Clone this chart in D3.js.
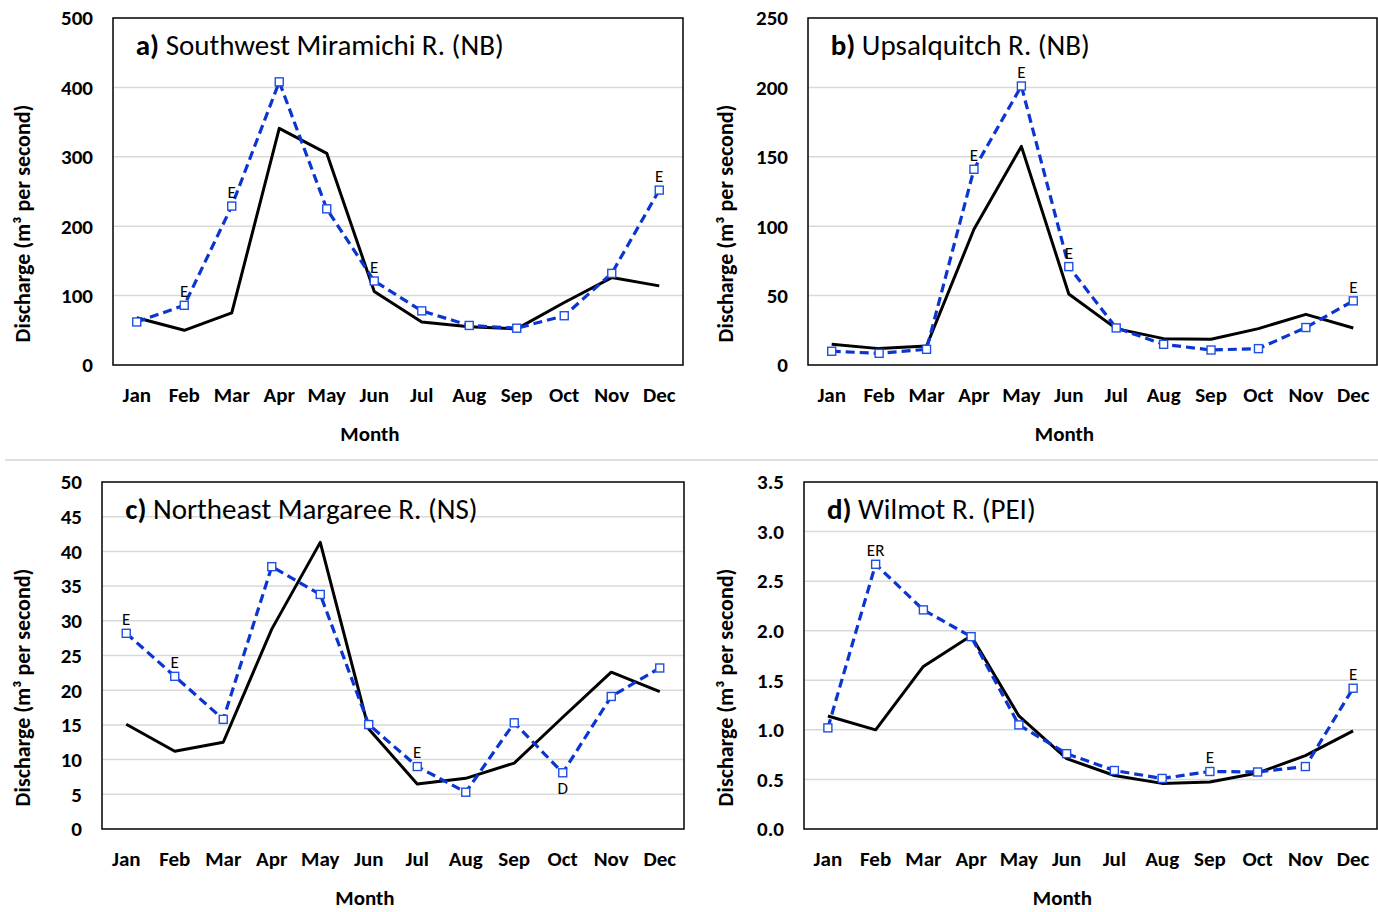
<!DOCTYPE html>
<html>
<head>
<meta charset="utf-8">
<script src="https://cdn.jsdelivr.net/npm/d3@7"></script>
<style>
  body { margin: 0; background: #fff; }
  text { font-family: Carlito, Lato, "Open Sans", sans-serif; }
</style>
</head>
<body>
<svg id="chart" width="1378" height="912"></svg>
<script>
// months along the x axis
const months = ["Jan", "Feb", "Mar", "Apr", "May", "Jun", "Jul", "Aug", "Sep", "Oct", "Nov", "Dec"];

// a) Southwest Miramichi R. (NB)
const aSolid  = [68, 50, 75, 341, 305, 106, 62, 55, 52, 90, 126, 114];
const aDashed = [62, 86, 229, 408, 225, 121, 78, 57, 53, 71, 132, 252];
const aFlags  = [["Feb", "E"], ["Mar", "E"], ["Jun", "E"], ["Dec", "E"]];
const aTicks  = [0, 100, 200, 300, 400, 500];

// b) Upsalquitch R. (NB)
const bSolid  = [14.9, 11.8, 13.7, 97.8, 157.5, 51.2, 26.2, 19, 18.5, 26.2, 36.5, 26.7];
const bDashed = [9.9, 8.4, 11.3, 141, 201, 70.9, 26.7, 14.9, 10.8, 11.8, 27, 46.2];
const bFlags  = [["Apr", "E"], ["May", "E"], ["Jun", "E"], ["Dec", "E"]];
const bTicks  = [0, 50, 100, 150, 200, 250];

// c) Northeast Margaree R. (NS)
const cSolid  = [15.1, 11.2, 12.5, 28.8, 41.3, 14.4, 6.5, 7.3, 9.5, 16.1, 22.6, 19.8];
const cDashed = [28.2, 22, 15.8, 37.8, 33.8, 15.05, 9.0, 5.3, 15.3, 8.1, 19.1, 23.2];
const cFlags  = [["Jan", "E"], ["Feb", "E"], ["Jul", "E"], ["Oct", "D"]];
const cTicks  = [0, 5, 10, 15, 20, 25, 30, 35, 40, 45, 50];

// d) Wilmot R. (PEI)
const dSolid  = [1.14, 1.0, 1.64, 1.95, 1.14, 0.71, 0.54, 0.46, 0.475, 0.565, 0.74, 0.99];
const dDashed = [1.02, 2.67, 2.21, 1.94, 1.05, 0.76, 0.59, 0.51, 0.58, 0.575, 0.63, 1.42];
const dFlags  = [["Feb", "ER"], ["Sep", "E"], ["Dec", "E"]];
const dTicks  = [0, 0.5, 1.0, 1.5, 2.0, 2.5, 3.0, 3.5];

const svg = d3.select("#chart");

// thin separator between the two rows
svg.append("line")
  .attr("x1", 5).attr("x2", 1378)
  .attr("y1", 460).attr("y2", 460)
  .attr("stroke", "#d4d4d4").attr("stroke-width", 1.5);

function drawPanel(p) {
  const g = svg.append("g");
  const x = d3.scaleBand().domain(months).range([p.left, p.left + p.width]);
  const y = d3.scaleLinear()
    .domain([0, p.ticks[p.ticks.length - 1]])
    .range([p.top + p.height, p.top]);
  const cx = (m) => x(m) + x.bandwidth() / 2;

  // gridlines
  g.selectAll(".grid")
    .data(p.ticks.slice(1, -1))
    .enter()
    .append("line")
    .attr("x1", p.left).attr("x2", p.left + p.width)
    .attr("y1", (d) => y(d)).attr("y2", (d) => y(d))
    .attr("stroke", "#d9d9d9").attr("stroke-width", 1.5);

  // plot frame
  g.append("rect")
    .attr("x", p.left).attr("y", p.top)
    .attr("width", p.width).attr("height", p.height)
    .attr("fill", "none").attr("stroke", "#000").attr("stroke-width", 1.5);

  // y tick labels
  g.selectAll(".ytick")
    .data(p.ticks)
    .enter()
    .append("text")
    .attr("x", p.left - 20)
    .attr("y", (d) => y(d))
    .attr("dy", "0.35em")
    .attr("text-anchor", "end")
    .attr("font-size", 21).attr("font-weight", "bold")
    .text((d) => d3.format(p.fmt)(d));

  // month labels
  g.selectAll(".xtick")
    .data(months)
    .enter()
    .append("text")
    .attr("x", (d) => cx(d))
    .attr("y", p.top + p.height + 30)
    .attr("dy", "0.35em")
    .attr("text-anchor", "middle")
    .attr("font-size", 21).attr("font-weight", "bold")
    .text((d) => d);

  // axis titles
  g.append("text")
    .attr("x", p.left + p.width / 2 - 28)
    .attr("y", p.top + p.height + 69)
    .attr("dy", "0.35em")
    .attr("text-anchor", "middle")
    .attr("font-size", 21).attr("font-weight", "bold")
    .text("Month");

  g.append("text")
    .attr("transform", "translate(" + p.ytitleX + "," + (p.top + p.height / 2 + 32) + ") rotate(-90)")
    .attr("dy", "0.35em")
    .attr("text-anchor", "middle")
    .attr("font-size", 22).attr("font-weight", "bold")
    .text("Discharge (m³ per second)");

  // panel title
  const t = g.append("text")
    .attr("x", x("Jan") + x.bandwidth() / 2 - 1)
    .attr("y", p.top + 27)
    .attr("dy", "0.35em")
    .attr("font-size", 29);
  t.append("tspan").attr("font-weight", "bold").text(p.letter + ")");
  t.append("tspan").text(" " + p.name);

  const line = d3.line()
    .x((d, i) => cx(months[i]))
    .y((d) => y(d));

  g.append("path")
    .datum(p.solid)
    .attr("d", line)
    .attr("fill", "none")
    .attr("stroke", "#000")
    .attr("stroke-width", 3)
    .attr("stroke-linejoin", "round");

  g.append("path")
    .datum(p.dashed)
    .attr("d", line)
    .attr("fill", "none")
    .attr("stroke", "#0a35d0")
    .attr("stroke-width", 3.2)
    .attr("stroke-dasharray", "9,5");

  g.selectAll(".marker")
    .data(p.dashed)
    .enter()
    .append("rect")
    .attr("x", (d, i) => cx(months[i]) - 4)
    .attr("y", (d) => y(d) - 4)
    .attr("width", 8).attr("height", 8)
    .attr("fill", "#fff")
    .attr("stroke", "#1f4fe6")
    .attr("stroke-width", 1.4);

  // data quality flags
  g.selectAll(".flag")
    .data(p.flags)
    .enter()
    .append("text")
    .attr("x", (d) => cx(d[0]))
    .attr("y", function (d) {
      const v = p.dashed[months.indexOf(d[0])];
      return d[1] === "D" ? y(v) + 15 : y(v) - 14;
    })
    .attr("dy", "0.35em")
    .attr("text-anchor", "middle")
    .attr("font-size", 17)
    .text((d) => d[1]);
}

drawPanel({ letter: "a", name: "Southwest Miramichi R. (NB)", solid: aSolid, dashed: aDashed,
  flags: aFlags, ticks: aTicks, fmt: "d", left: 113, top: 18, width: 570, height: 347, ytitleX: 22 });
drawPanel({ letter: "b", name: "Upsalquitch R. (NB)", solid: bSolid, dashed: bDashed,
  flags: bFlags, ticks: bTicks, fmt: "d", left: 808, top: 18, width: 569, height: 347, ytitleX: 725 });
drawPanel({ letter: "c", name: "Northeast Margaree R. (NS)", solid: cSolid, dashed: cDashed,
  flags: cFlags, ticks: cTicks, fmt: "d", left: 102, top: 482, width: 582, height: 347, ytitleX: 22 });
drawPanel({ letter: "d", name: "Wilmot R. (PEI)", solid: dSolid, dashed: dDashed,
  flags: dFlags, ticks: dTicks, fmt: ".1f", left: 804, top: 482, width: 573, height: 347, ytitleX: 725 });
</script>
</body>
</html>
